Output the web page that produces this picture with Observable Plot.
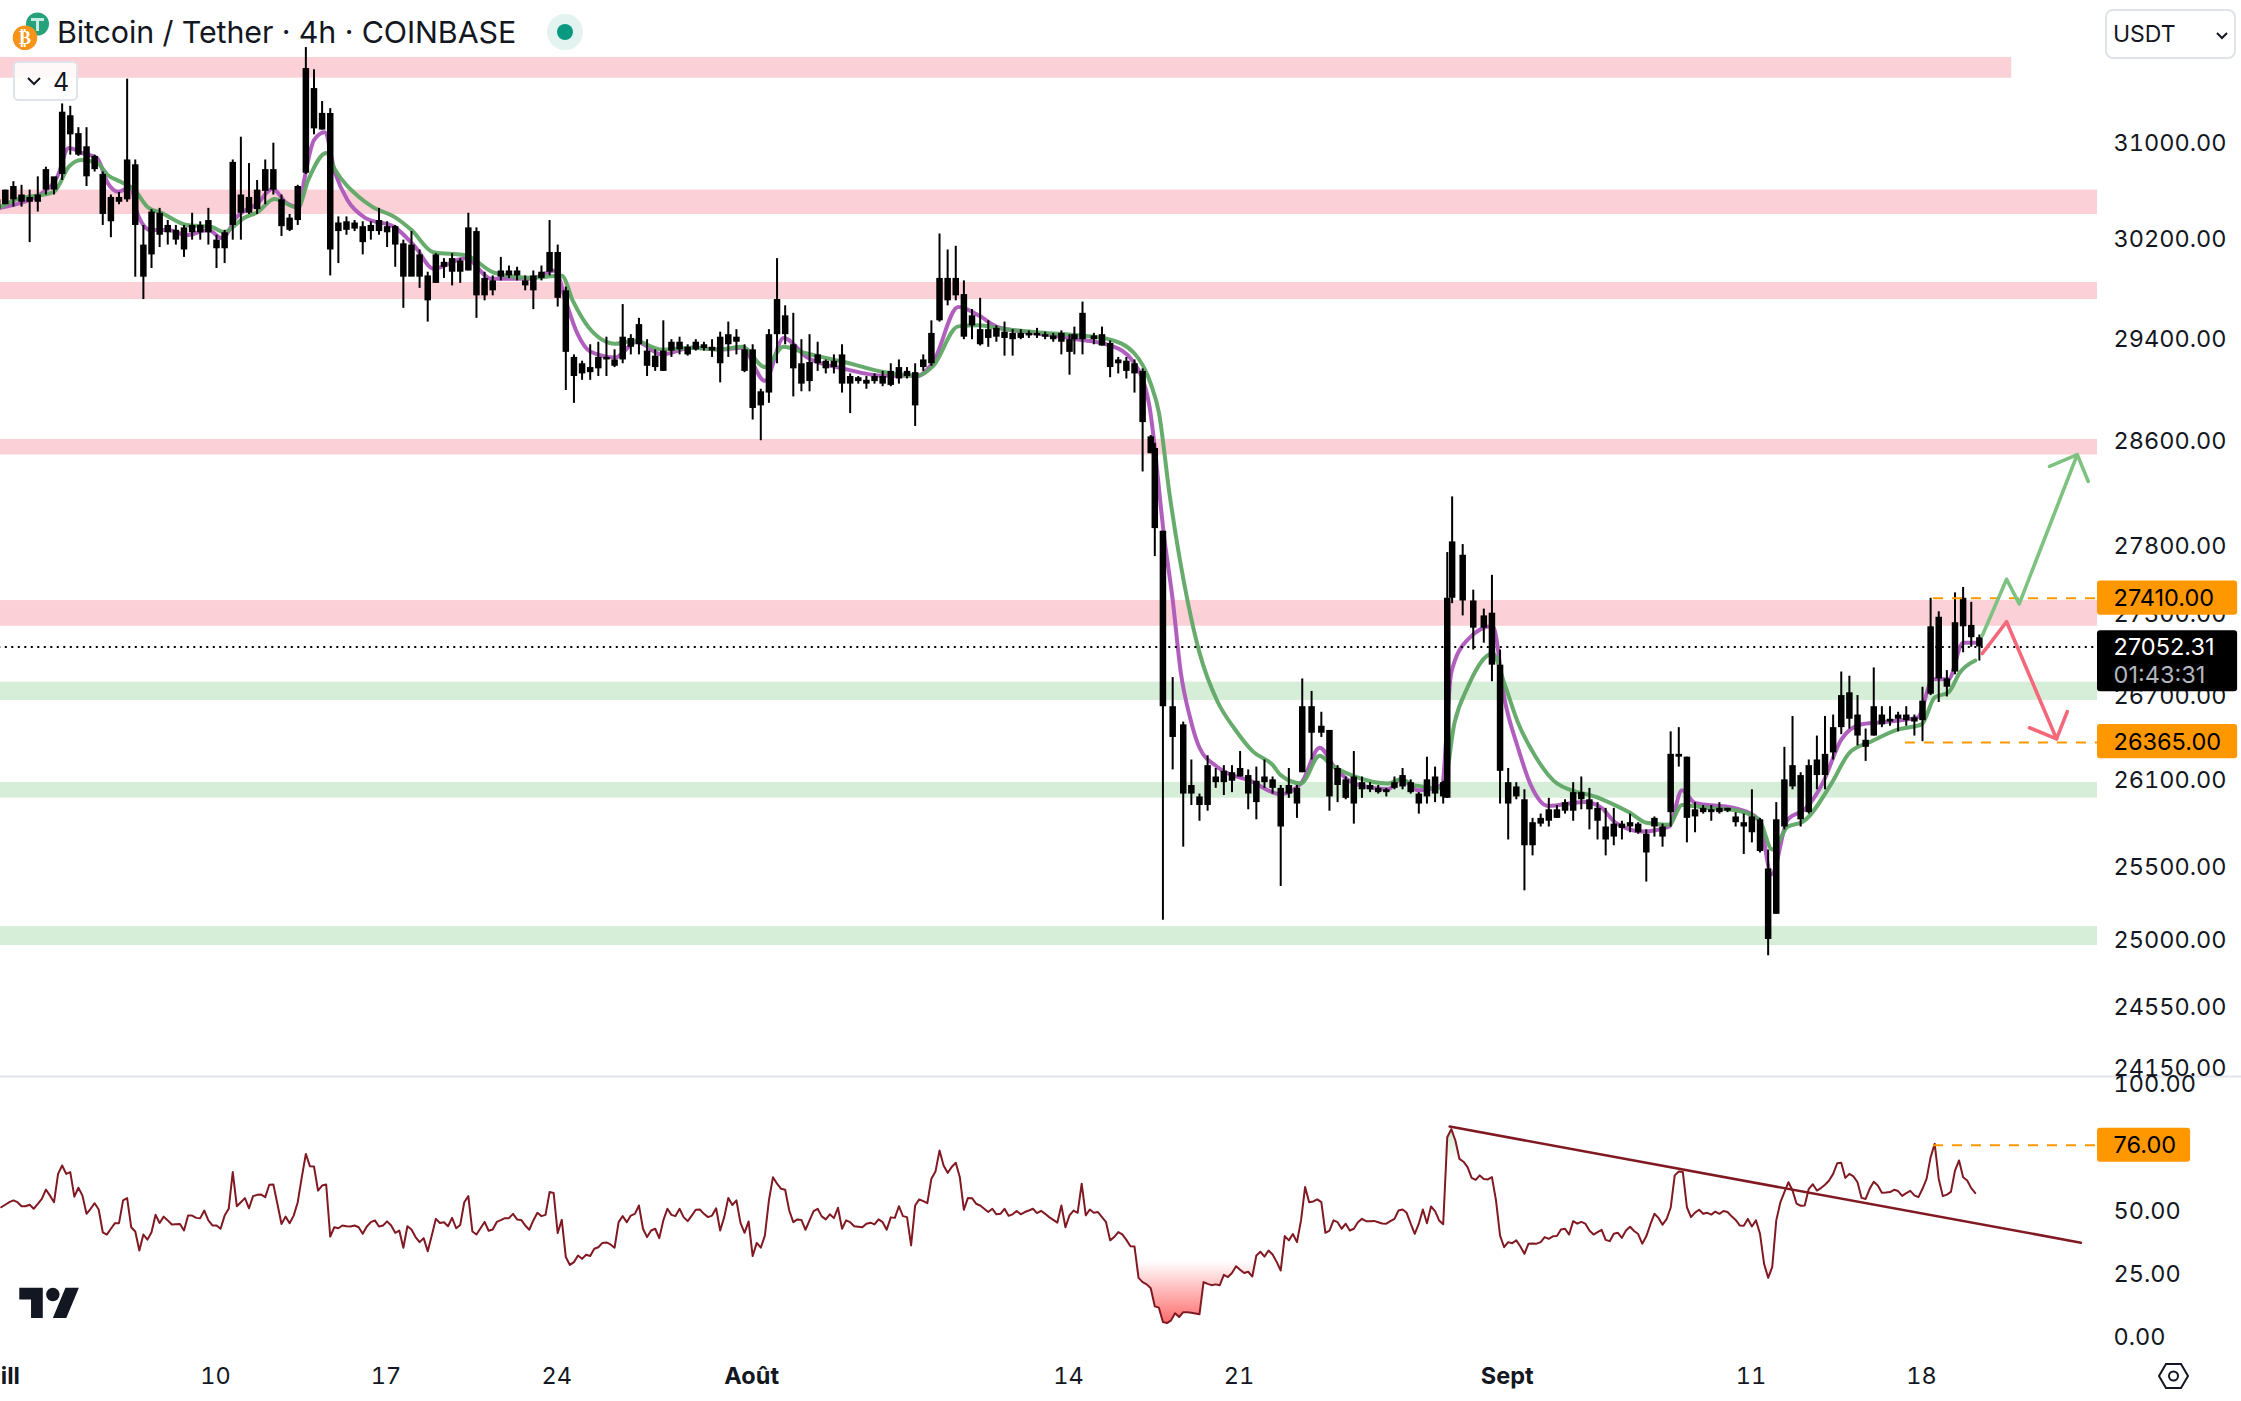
<!DOCTYPE html>
<html><head><meta charset="utf-8">
<script src="https://cdn.jsdelivr.net/npm/d3@7"></script>
<script src="https://cdn.jsdelivr.net/npm/@observablehq/plot@0.6"></script>
<style>
html,body{margin:0;padding:0;background:#fff;overflow:hidden}
#page{position:relative;width:2241px;height:1401px;overflow:hidden;font-family:Inter,sans-serif;color:#131722}
.ov{position:absolute}
</style></head><body><div id="page"></div>
<script>
// 8-hour candles, prices in USDT (index 0 = 1 July)
const high=[
30600,30600,30670,30640,30600,30710,30790,30700,31320,31300,
31120,31120,30890,30750,30560,30580,31530,30850,30310,30440,
30450,30350,30310,30310,30410,30340,30450,30230,30270,30850,
31040,30820,30680,30850,30990,30560,30400,30640,31800,31610,
31340,31280,30380,30380,30350,30340,30340,30450,30340,30310,
30190,30260,30110,29930,30080,30040,30080,30040,30410,30290,
29930,29900,30050,29980,29970,29900,29940,29980,30350,30150,
29810,29270,29220,29350,29370,29410,29310,29670,29430,29560,
29390,29310,29540,29390,29410,29350,29390,29370,29390,29450,
29530,29470,29350,29350,29000,29470,30040,29660,29600,29390,
29430,29370,29230,29270,29350,29120,29100,29100,29120,29140,
29200,29230,29170,29200,29270,29540,30240,30110,30140,29860,
29630,29720,29540,29500,29530,29470,29470,29460,29480,29450,
29440,29460,29430,29490,29690,29440,
29490,29380,29250,29250,29230,29160,28640,28580,27910,26830,
26510,26240,26000,26270,26180,26200,26200,26300,26170,26190,
26240,26120,26060,26180,26060,26820,26730,26580,26450,26200,
26120,26300,26120,26080,26060,26040,26120,26180,26100,26010,
26260,26190,26090,27750,28170,27810,27470,27330,27580,27030,
26180,26080,26030,25830,25860,25970,25920,25960,26080,26120,
26040,25940,25900,25900,25810,25860,25800,25750,25840,25790,
26440,26470,26260,25940,25920,25920,25940,25900,25870,25860,
26030,25830,25610,25940,26330,26550,26150,26240,26410,26550,
26560,26870,26840,26700,26460,26900,26620,26620,26580,26620,
26560,26760,27410,27310,26880,27450,27490,27380,27140];
const low=[
30330,30480,30460,30460,30170,30420,30560,30560,30680,30890,
30880,30630,30750,30310,30210,30480,30500,29890,29710,29960,
30130,30150,30150,30050,30190,30190,30150,29960,30000,30190,
30190,30400,30400,30480,30560,30220,30260,30310,30730,31060,
31100,29900,30000,30230,30260,30070,30190,30230,30130,29970,
29640,29900,29800,29530,29840,29880,29820,29840,29940,29560,
29700,29740,29860,29880,29860,29780,29630,29860,29900,29650,
28990,28890,29070,29070,29100,29100,29170,29200,29270,29270,
29100,29140,29140,29250,29270,29260,29300,29300,29250,29050,
29250,29270,29130,28760,28600,28890,29200,29350,28940,28980,
28980,29140,29120,29120,28970,28810,29040,29000,29040,29020,
29020,29040,29080,28710,29140,29180,29530,29660,29700,29390,
29390,29340,29330,29370,29260,29260,29390,29400,29400,29390,
29370,29270,29110,29270,29270,29350,
29340,29090,29120,29080,28970,28360,28500,27720,25130,26170,
25630,25920,25810,25880,26040,25990,26010,26120,25890,25820,
26040,26000,25360,25970,25830,26150,26240,26400,25880,25940,
25960,25790,25970,26010,26000,25980,26030,26030,26000,25860,
25930,25940,25930,25970,27370,27280,27030,27080,26800,25930,
25680,25960,25330,25570,25770,25770,25830,25860,25810,25890,
25750,25680,25570,25640,25680,25730,25720,25390,25700,25630,
25770,26190,25660,25730,25860,25810,25860,25870,25770,25580,
25660,25590,24890,25170,25750,26030,25770,25860,26030,26030,
26240,26420,26460,26340,26230,26410,26470,26480,26440,26480,
26410,26370,26700,26650,26690,26850,27010,27050,26950];
const open=[
30520,30600,30630,30560,30540,30560,30770,30710,31250,31220,
31070,30960,30880,30730,30540,30540,30850,30810,30150,30420,
30410,30310,30270,30290,30310,30310,30350,30190,30250,30830,
30560,30540,30600,30770,30770,30520,30370,30630,31620,31450,
31240,31240,30330,30340,30330,30300,30310,30350,30300,30300,
30160,30150,30070,29900,30070,30010,30040,30020,30290,30260,
29880,29860,29940,29940,29940,29860,29900,29930,30090,30090,
29780,29250,29200,29170,29250,29250,29230,29410,29400,29510,
29300,29260,29300,29370,29370,29330,29370,29350,29330,29410,
29430,29410,29310,29310,28980,29430,29710,29580,29350,29200,
29210,29270,29220,29220,29270,29100,29090,29070,29100,29100,
29140,29170,29140,29130,29230,29440,29880,29880,29880,29750,
29580,29470,29470,29480,29450,29440,29440,29440,29440,29430,
29420,29440,29390,29430,29600,29420,
29430,29360,29230,29220,29200,29140,28630,28540,27910,26620,
26490,26060,25980,26200,26120,26160,26150,26180,26130,26090,
26120,26100,26040,26060,26040,26620,26620,26480,26450,26180,
26100,26120,26080,26060,26040,26030,26080,26130,26080,26000,
26100,26120,26080,27410,27830,27730,27390,27280,27300,26920,
26080,26050,25960,25800,25830,25890,25890,25940,26010,26010,
25960,25900,25770,25790,25790,25800,25790,25720,25830,25770,
26280,26280,26260,25890,25900,25890,25900,25900,25840,25800,
25840,25820,25480,25820,26100,26200,26130,26200,26240,26280,
26470,26700,26720,26560,26380,26620,26560,26530,26560,26560,
26540,26660,27200,27270,26820,27230,27410,27210,27120];
const close=[
30440,30480,30520,30500,30500,30500,30600,30600,30730,31060,
30890,30710,30770,30400,30340,30500,30520,30310,29890,30070,
30230,30250,30190,30110,30250,30250,30250,30120,30120,30310,
30410,30410,30440,30590,30600,30300,30270,30350,30740,31110,
31100,30110,30260,30270,30280,30170,30260,30260,30250,30150,
29890,29890,29890,29700,29840,29970,29930,29930,29940,29740,
29740,29780,29890,29900,29900,29820,29780,29880,29930,29720,
29290,29100,29120,29130,29160,29230,29180,29230,29330,29350,
29180,29170,29140,29300,29310,29270,29310,29320,29300,29200,
29350,29370,29140,28850,28870,28970,29430,29430,29160,29040,
29060,29200,29160,29170,29040,29040,29060,29040,29060,29040,
29030,29080,29100,28870,29170,29200,29540,29700,29740,29410,
29500,29350,29400,29410,29400,29390,29400,29420,29420,29410,
29390,29370,29290,29390,29390,29390,
29340,29170,29200,29140,29120,28740,28500,27930,26620,26400,
26000,26000,25920,25920,26080,26080,26090,26120,26000,25940,
26080,26040,25770,26000,25930,26150,26430,26430,25980,26060,
25970,25930,26030,26030,26010,26010,26040,26050,26010,25930,
25980,26000,25980,25970,27410,27390,27190,27190,26920,26160,
25930,25980,25640,25640,25790,25810,25830,25880,25880,25960,
25890,25810,25680,25700,25760,25770,25730,25590,25770,25700,
25870,26260,25830,25840,25870,25870,25870,25880,25800,25770,
25730,25600,25000,25170,25770,26050,25820,25870,26130,26130,
26290,26470,26530,26410,26330,26410,26490,26510,26530,26520,
26510,26520,26710,26820,26760,26870,27200,27120,27052.31];
// candles whose time sits off the regular 8-hour slot, in slots
const offsetBar=[133,134,143,144,145,161,162,179,180,181,182];
const offsetSlots=[-0.4,-0.4,-0.5,-0.5,-0.3,-0.35,-0.2,-0.5,-0.9,-0.6,-0.3];

// moving averages: candle index and price at each vertex
const greenBar=[0.4,2.2,7,8.8,10.3,12.3,13.6,15.2,16.9,18.5,20.2,23.3,26.4,27.9,30.4,32.1,34.1,37,38.3,40.5,41.6,44.5,46.2,48.9,51,53.7,57.7,61.2,65.6,69.5,70.9,72.8,76.1,78.5,81.8,85.5,88.8,91.7,94.5,96.8,99.2,104.4,109.1,113.3,115.2,118.3,120.9,123.2,127.9,132.7,136.7,140,142,143,144.3,146.6,148,150.2,152.3,154.6,157,158,160.5,162.8,164.2,167,171.2,172.8,174.5,178,179.4,181,184.1,185.6,187.2,189.3,192,197.5,201,203,205.8,207.4,210.5,213.8,216.9,218.5,220.4,222.3,225.8,228,230.7,234,236.9,238.5,240.2,241.6,243.5];
const greenPrice=[30462,30520,30586,30792,30850,30825,30726,30669,30603,30462,30413,30314,30297,30256,30372,30421,30528,30454,30685,30908,30768,30545,30462,30380,30272,30091,30066,29926,29885,29901,29695,29489,29358,29381,29312,29327,29312,29335,29174,29335,29289,29212,29135,29105,29181,29496,29504,29481,29450,29427,29396,29281,29043,28820,28198,27371,27011,26659,26464,26299,26205,26133,26075,26270,26205,26126,26075,26104,26061,26041,26507,26759,27004,26774,26507,26270,26075,25965,25869,25800,25786,25924,25903,25889,25820,25614,25772,25807,26075,26291,26371,26457,26493,26687,26723,26867,26954];
const purpleBar=[0.4,6.1,7.4,8.8,10.5,12.3,13.6,14.9,16.5,17.1,18.9,21.1,23.3,26,27.7,29.5,32.1,33.9,35.6,37.2,37.8,39,40.3,41.6,43.1,45.3,48.9,51.5,53.7,57.7,60.8,65.6,68.7,70,71.4,73,76.1,78.7,81.8,85.5,89.3,91.7,94.5,96.8,99.7,104.4,109.1,113.3,115.2,118.3,120.9,123.2,127.9,132.7,137.1,139.8,141.8,143.7,144.7,145.7,146.8,148,150.2,154.4,158,160.5,162.8,164.6,167,171.2,172.8,174.9,177.8,179,181,184.1,185.6,187.2,188.8,190.9,195.4,197.5,199.2,202.5,205.8,207.4,209,213.8,216.9,218.4,220.4,222.7,224.7,227,229.4,231.7,236.4,238.3,240.2,242,243.5];
const purplePrice=[30454,30603,30710,30949,30908,30866,30660,30586,30627,30437,30272,30272,30231,30272,30206,30380,30495,30611,30495,30462,30685,31015,31081,30743,30520,30372,30297,30132,29959,30042,29877,29877,29943,29695,29442,29297,29250,29373,29274,29327,29312,29327,29066,29404,29250,29158,29105,29105,29212,29650,29580,29489,29442,29396,29343,29220,28882,27845,27400,26867,26551,26327,26191,26089,25999,26075,26327,26191,26075,26034,26104,26027,26061,26867,27105,27206,26659,26327,26061,25917,25944,25903,25800,25738,25772,26027,25937,25903,25820,25442,25820,25903,26075,26385,26493,26507,26543,26817,26817,27083,27083];

// horizontal zones
const zoneTop=[31715,30600,29847,28610,27393,26797,26082,25087];
const zoneBottom=[31538,30400,29710,28490,27204,26664,25971,24959];
const zoneEnd=[82.66,86.18,86.18,86.18,86.18,86.18,86.18,86.18];
const zoneFill=["#fbd0d6","#fbd0d6","#fbd0d6","#fbd0d6","#fbd0d6","#d6edd8","#d6edd8","#d6edd8"];

const priceTicks=[31000,30200,29400,28600,27800,27300,26700,26100,25500,25000,24550,24150];
const lastPrice=27052.31;
const targets=[27410,26365];
const targetStart=[79.45,78.3];

// scenario arrows (day, price)
const upDay=[81.45,82.45,82.97,85.35], upPrice=[27134,27551,27369,28493];
const upHeadDay=[84.21,85.35,85.8], upHeadPrice=[28403,28493,28288];
const downDay=[81.45,82.45,84.5], downPrice=[27004,27237,26390];
const downHeadDay=[83.39,84.5,84.94], downHeadPrice=[26469,26390,26585];

// RSI, one value per 4-hour candle
const rsi=[
51.5,52.5,53.5,54.2,53.5,51.9,51.9,52.5,50.9,52.8,54.8,58.5,56.1,53.5,64.7,68,64.7,65.4,55.7,59.2,
56.1,48.9,50.9,53.1,50.6,41.6,40.7,43,45.2,45.2,54.2,55.1,43.6,41.9,34.4,40.7,38.7,41.6,48.5,45.3,
47.8,46.3,44.7,44.8,44.9,42.3,48.2,48.2,47.3,47.2,50.2,46.3,44.3,44.3,43,48.2,50.9,65.4,51.9,53.5,
55.1,51.1,55.9,56.4,56.5,55.5,60.4,60.5,52.8,44.9,47.8,45.2,48.2,53.5,63.4,72.6,67.7,67.6,58.1,60.1,
60.5,39.9,43.6,43.2,44.3,44,43.9,44.3,43.6,41,43.9,45.6,46.3,43.9,44.3,45.9,44.3,41.4,42.3,35.5,
44,42.7,39.7,37.7,39.3,34.1,40.3,46.9,45.3,45.6,44,47.3,43.2,44.5,53.5,55.9,41.9,40.7,43.2,45.7,
42.2,42.7,45.7,46.4,47.2,47.2,48.9,46.7,46.5,44.3,42.6,46.3,49.3,48,48.5,57.5,57.1,41.3,46.5,31.8,
28.7,29.8,32.4,31.1,32.7,32.2,35.1,35.7,37.4,37.6,36.8,35.5,45.6,48,45.6,48.2,48.9,52.2,43,39.7,
42.3,43,39.3,46.3,50.9,48.5,48,50.9,47.6,46,48.2,50.5,50.6,48.9,47.6,48.2,51.1,42.3,47.6,55.2,
52.4,54.2,45.3,41.4,45.9,32.2,37.4,35.5,40.3,54.2,63.4,60.8,58.8,58.4,50.2,45.6,46.7,46.5,42.6,46.3,
50,50.9,47.9,46.7,48.7,47.2,51.3,43,46.3,45.6,44,43.8,43.6,45,45.4,44.7,46.7,45.6,42.6,47.5,
47.3,51.9,48,47.6,36.4,52.2,54.6,53.9,53.1,62.8,65.6,73.9,68,65.1,67.4,69.1,63.4,50.5,55.2,55.1,
52.9,52.2,50.9,49.6,50.9,48.7,48.9,50.9,48.1,48.7,50,48.7,49.6,50.2,50.9,49.2,50.1,48.9,47.6,46.5,
45.4,52.2,43.6,48.3,50.2,49.3,60.8,48.3,50.6,49.3,49.6,47.6,45.6,38.4,39.7,41.7,40.8,38.6,36.1,36,
23.6,21.9,21,19.5,12.3,11.8,6.1,5.7,6.8,9.6,8.1,10,10,9.8,9.5,9.2,21.9,21.2,20.7,21,
20.7,24.8,23.9,25.5,28.2,26.8,25.5,26,24.1,32.4,33.9,32,34.4,32.8,29.9,26.5,40.1,38.4,40.9,37.7,
46.3,59.5,53.5,53.8,54.6,53.5,41.4,42.3,46.3,45.6,43,45,42.3,43,45.6,46.9,46,46,46.1,45.6,
45.1,45,46,46.9,50.2,50.6,49.3,45,41,45,50.6,45.2,51.8,50,46.3,44.8,79.2,82.4,77.9,70.6,
69.5,67.4,63.1,62.3,64.1,62.7,62.5,63.4,54.2,40.3,35.7,37.7,37.3,38.4,36,33.1,37.1,37.2,37.1,37.7,
39.7,39,40,40.1,42.7,43,40.7,46,45,45.7,45,42.3,40.7,41.7,42.6,38.6,38.1,41,41.4,39.4,
42.3,43.8,42.1,40.9,37.1,40,44.7,48.9,47.3,44.6,46.8,51.3,64.1,65.6,65.4,51.5,47.6,49.4,50.5,48.9,
49.3,48.6,49.8,48.9,50,49.6,47.9,46.5,44.3,44.2,46.9,43.9,46.3,41,29.1,23.6,27.8,46.3,53.4,57.5,
61.4,58.1,52.9,52.1,52.2,58.8,60.6,58.1,59.1,60.4,62.1,64.7,68.9,69.1,63.1,64.7,63.7,61.4,55.2,54.8,
58.8,61.6,60.1,57.2,57.3,57.5,58.4,57.9,56,57.1,58,56.2,55.5,58.8,62.7,71.3,76.6,62.7,55.9,56.5,
57.6,66,70,63.4,62.1,59.05,57.1];
const rsiTicks=[100,50,25,0];
const trendDay=[59.6,85.5], trendRsi=[83.4,37.5];

// time axis (days since 1 July)
const dayTicks=[9,16,23,44,51,72,79];
const dayLabels=["10","17","24","14","21","11","18"];
const monthTicks=[0,31,62];
const monthLabels=["Juill","Août","Sept"];

const barDay=high.map((_,i)=>{
  const k=offsetBar.indexOf(i);
  return (i+(k>=0?offsetSlots[k]:0))/3;
});
const rsiDay=rsi.map((_,i)=>(i+1)/6);
const X={type:"linear",domain:[9,79],range:[216,1922]};
const ink="#131722", FS=23.5, LS="0.6px";
const poly=(xs,ys,stroke,w,extra={})=>Plot.line(xs,{x:xs,y:ys,stroke,strokeWidth:w,strokeLinecap:"round",strokeLinejoin:"round",...extra});
const baseStyle={position:"absolute",left:"0",top:"0",background:"transparent",fontFamily:"Inter, sans-serif",overflow:"hidden"};

const main=Plot.plot({
  width:2241,height:1401,margin:0,marginRight:128,
  style:baseStyle,
  x:{...X,axis:null},
  y:{type:"log",domain:[31000,24150],range:[141.5,1067.2],axis:null},
  marks:[
    Plot.rect(zoneTop,{x1:-1,x2:zoneEnd,y1:zoneTop,y2:zoneBottom,fill:zoneFill}),
    Plot.axisY({anchor:"right",ticks:priceTicks,tickSize:0,tickPadding:0,tickFormat:d=>d.toFixed(2),fontSize:FS,fill:ink,label:null,letterSpacing:LS,dy:1}),
    poly(purpleBar.map(b=>b/3),purplePrice,"#ad56bb",4,{strokeOpacity:.95,curve:"monotone-x"}),
    poly(greenBar.map(b=>b/3),greenPrice,"#5fa765",4,{strokeOpacity:.95,curve:"monotone-x"}),
    Plot.ruleX(barDay,{x:barDay,y1:low,y2:high,stroke:"#000",strokeWidth:2}),
    Plot.ruleX(barDay,{x:barDay,y1:open,y2:close,stroke:"#000",strokeWidth:6.5}),
    Plot.ruleY([lastPrice],{x1:-1,x2:86.18,stroke:"#000",strokeWidth:2,strokeDasharray:"2 4.5"}),
    Plot.ruleY(targets,{x1:targetStart,x2:86.18,stroke:"#ff9800",strokeWidth:2,strokeDasharray:"10 9"}),
    poly(upDay,upPrice,"#7dc280",3.6),
    poly(upHeadDay,upHeadPrice,"#7dc280",3.6),
    poly(downDay,downPrice,"#f4687a",3.6),
    poly(downHeadDay,downHeadPrice,"#f4687a",3.6),
    Plot.rect([0],{x1:86.18,x2:91.93,y1:27538,y2:27285,fill:"#ff9800",rx:3}),
    Plot.rect([0],{x1:86.18,x2:91.93,y1:26493,y2:26248,fill:"#ff9800",rx:3}),
    Plot.rect([0],{x1:86.18,x2:91.93,y1:27171,y2:26727,fill:"#000",rx:3}),
    Plot.text(targets,{x:86.84,y:targets,text:d=>d.toFixed(2),textAnchor:"start",fontSize:FS,fill:"#000",letterSpacing:LS}),
    Plot.text([lastPrice],{x:86.84,y:lastPrice,text:d=>d.toFixed(2),textAnchor:"start",fontSize:FS,fill:"#fff",letterSpacing:LS}),
    Plot.text(["01:43:31"],{x:86.84,y:26845,text:d=>d,textAnchor:"start",fontSize:FS,fill:"#b2b5be",letterSpacing:LS})
  ]
});

const gradients=()=>{
  const s=d3.create("svg:defs");
  s.html(`<linearGradient id="rsiLow" x1="0" y1="0" x2="0" y2="1"><stop offset="0" stop-color="#ff5252" stop-opacity="0"/><stop offset="1" stop-color="#ff5252" stop-opacity=".85"/></linearGradient>
  <linearGradient id="rsiHigh" x1="0" y1="0" x2="0" y2="1"><stop offset="0" stop-color="#4caf50" stop-opacity=".3"/><stop offset="1" stop-color="#4caf50" stop-opacity="0"/></linearGradient>`);
  return s.node();
};
const lower=Plot.plot({
  width:2241,height:1401,margin:0,marginRight:128,marginBottom:34,
  style:baseStyle,
  x:{...X,axis:null},
  y:{domain:[0,103.2],range:[1337,1076],axis:null},
  marks:[
    gradients,
    Plot.ruleY([103.2],{x1:-1,x2:92.5,stroke:"#e0e3eb",strokeWidth:2}),
    Plot.areaY(rsi,{x:rsiDay,y1:30,y2:rsi.map(v=>Math.min(v,30)),fill:"url(#rsiLow)"}),
    Plot.areaY(rsi,{x:rsiDay,y1:70,y2:rsi.map(v=>Math.max(v,70)),fill:"url(#rsiHigh)"}),
    Plot.axisY({anchor:"right",ticks:rsiTicks,tickSize:0,tickPadding:0,tickFormat:d=>d.toFixed(2),fontSize:FS,fill:ink,label:null,letterSpacing:LS}),
    Plot.line(rsi,{x:rsiDay,y:rsi,stroke:"#801922",strokeWidth:2,strokeLinejoin:"round"}),
    poly(trendDay,trendRsi,"#801922",2.6),
    Plot.ruleY([76],{x1:79.45,x2:86.18,stroke:"#ff9800",strokeWidth:2,strokeDasharray:"10 9"}),
    Plot.rect([0],{x1:86.18,x2:90,y1:82.7,y2:69.3,fill:"#ff9800",rx:3}),
    Plot.text([76],{x:86.84,y:76,text:d=>d.toFixed(2),textAnchor:"start",fontSize:FS,fill:"#000",letterSpacing:LS}),
    Plot.axisX({anchor:"bottom",ticks:dayTicks,tickSize:0,tickPadding:0,tickFormat:d=>dayLabels[dayTicks.indexOf(d)],fontSize:FS,fill:ink,label:null,dx:-1}),
    Plot.axisX({anchor:"bottom",ticks:monthTicks,tickSize:0,tickPadding:0,tickFormat:d=>monthLabels[monthTicks.indexOf(d)],fontSize:FS,fontWeight:"bold",fill:ink,label:null,dx:-1})
  ]
});

const page=document.getElementById("page");
page.append(lower,main);
const chrome=document.createElement("div");
chrome.innerHTML=`
<svg class="ov" style="left:10px;top:10px" width="50" height="46" viewBox="0 0 50 46">
  <circle cx="27.5" cy="14" r="11.5" fill="#26a17b"/>
  <rect x="21" y="8" width="13" height="3" fill="#c9ece0"/><rect x="26" y="8" width="3" height="13" fill="#c9ece0"/>
  <circle cx="15" cy="27.7" r="12.3" fill="#f7931a"/>
  <text x="15" y="34" text-anchor="middle" font-size="18" font-weight="bold" fill="#fff" font-family="DejaVu Sans">₿</text>
</svg>
<div class="ov" style="left:57px;top:14px;font-size:30.4px;line-height:36px;white-space:nowrap;letter-spacing:-.1px">Bitcoin / Tether · 4h · COINBASE</div>
<svg class="ov" style="left:547px;top:14px" width="36" height="36"><circle cx="18" cy="18" r="18" fill="#e3f3ef"/><circle cx="18" cy="18" r="8" fill="#089981"/></svg>
<div class="ov" style="left:13px;top:61px;width:65px;height:40px;box-sizing:border-box;border:2px solid #e0e3eb;border-radius:5px;background:rgba(255,255,255,.85)">
  <svg style="position:absolute;left:11px;top:13px" width="16" height="12"><polyline points="2,2 8,8 14,2" fill="none" stroke="#131722" stroke-width="2"/></svg>
  <div style="position:absolute;left:38px;top:3px;font-size:25px;line-height:32px">4</div>
</div>
<div class="ov" style="left:2105px;top:9px;width:131px;height:50px;box-sizing:border-box;border:2px solid #e0e3eb;border-radius:8px;background:#fff">
  <div style="position:absolute;left:6px;top:7px;font-size:23px;line-height:32px">USDT</div>
  <svg style="position:absolute;left:108px;top:20px" width="14" height="10"><polyline points="2,2 7,7 12,2" fill="none" stroke="#131722" stroke-width="2"/></svg>
</div>
<svg class="ov" style="left:19px;top:1281px" width="61" height="47" viewBox="0 0 36 28" fill="#131722"><path d="M14 22H7V11H0V4h14v18zM28 22h-8l7.5-18h8L28 22z"/><circle cx="20" cy="8" r="4"/></svg>
<svg class="ov" style="left:2157px;top:1360px" width="33" height="32" viewBox="0 0 33 32" fill="none" stroke="#131722" stroke-width="2"><polygon points="9,4 24,4 31,16 24,28 9,28 2,16"/><circle cx="16.5" cy="16" r="4.5"/></svg>`;
page.append(chrome);
</script></body></html>
